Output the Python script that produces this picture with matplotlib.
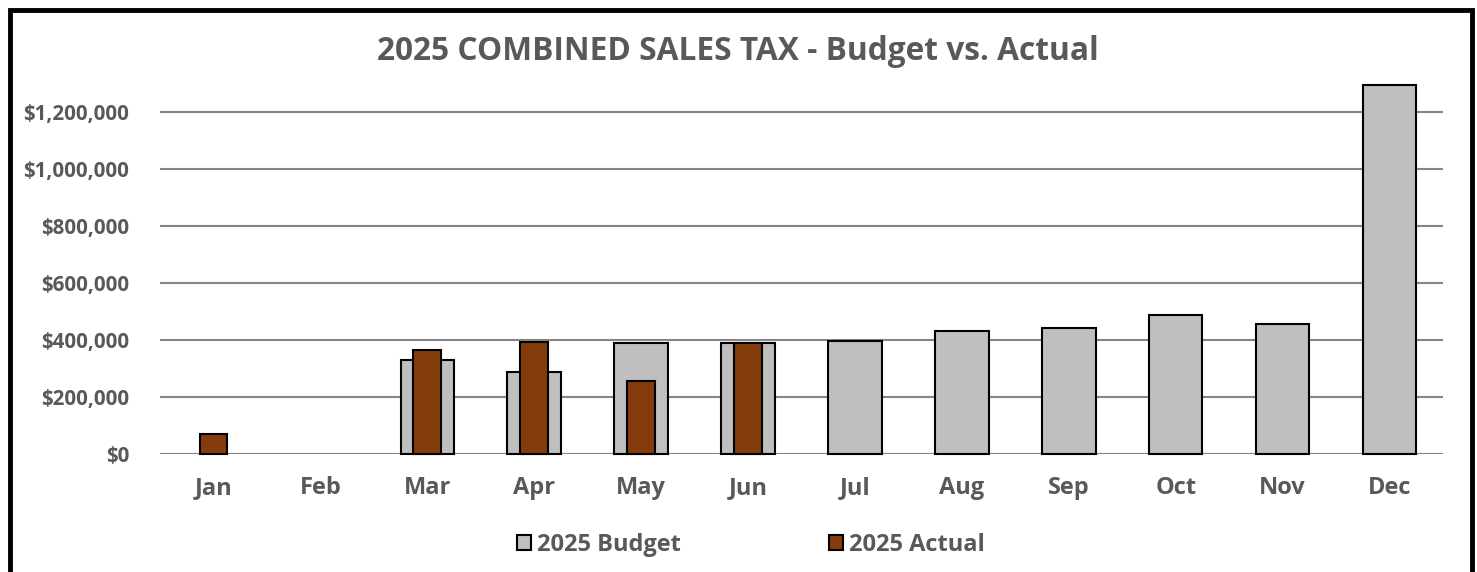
import matplotlib.pyplot as plt
from matplotlib.patches import Rectangle
import numpy as np

plt.rcParams['font.family'] = ['Open Sans', 'DejaVu Sans']

months = ['Jan', 'Feb', 'Mar', 'Apr', 'May', 'Jun',
          'Jul', 'Aug', 'Sep', 'Oct', 'Nov', 'Dec']
budget = [0, 0, 330000, 287000, 389000, 390000,
          397000, 432000, 442000, 488000, 456000, 1295000]
actual = [70000, 0, 365000, 393000, 256000, 390000,
          0, 0, 0, 0, 0, 0]

text_col = '#595959'
grid_col = '#868686'

fig = plt.figure(figsize=(14.77, 5.72), dpi=100)
ax = fig.add_axes([160 / 1477, 1 - 454 / 572, 1283 / 1477, (454 - 80) / 572])

x = np.arange(len(months))
# empty months get no bar at all
bud = [v if v > 0 else np.nan for v in budget]
act = [v if v > 0 else np.nan for v in actual]
ax.bar(x, bud, width=0.5, color='#BFBFBF', edgecolor='black',
       linewidth=1.5, label='2025 Budget', zorder=3, clip_on=False)
ax.bar(x, act, width=0.26, color='#843C0C', edgecolor='black',
       linewidth=1.5, label='2025 Actual', zorder=4, clip_on=False)

ax.set_xlim(-0.5, 11.5)
ax.set_ylim(0, (454 - 80) / 285 * 1e6)
ax.set_yticks(np.arange(0, 1200001, 200000))
ax.set_yticklabels([f'${v:,.0f}' for v in np.arange(0, 1200001, 200000)])
ax.grid(axis='y', color=grid_col, linewidth=1.5, zorder=0)
for s in ax.spines.values():
    s.set_visible(False)
ax.tick_params(axis='y', length=0, labelsize=14.8, labelcolor=text_col, pad=22)
ax.tick_params(axis='x', length=0, labelsize=17, labelcolor=text_col, pad=16)
ax.set_xticks(x)
ax.set_xticklabels(months)
for lbl in ax.get_xticklabels() + ax.get_yticklabels():
    lbl.set_fontweight('bold')

fig.text(738 / 1477, 1 - 52 / 572, '2025 COMBINED SALES TAX - Budget vs. Actual',
         ha='center', va='center', fontsize=22.8, fontweight='bold', color=text_col)

leg = fig.legend(loc='center', bbox_to_anchor=(751 / 1477, 1 - 545 / 572), ncol=2,
                 frameon=False, prop={'size': 17, 'weight': 'bold'},
                 columnspacing=6.3, handlelength=0.58, handleheight=0.58,
                 handletextpad=0.25, borderpad=0, borderaxespad=0)
for t in leg.get_texts():
    t.set_color(text_col)

# outer frame around the chart area
fig.patches.append(Rectangle((10 / 1477, -0.1), 1462 / 1477, 1.1 - 10 / 572,
                             transform=fig.transFigure, fill=False,
                             edgecolor='black', linewidth=3.5, zorder=10))

fig.savefig('out.png', dpi=100)
